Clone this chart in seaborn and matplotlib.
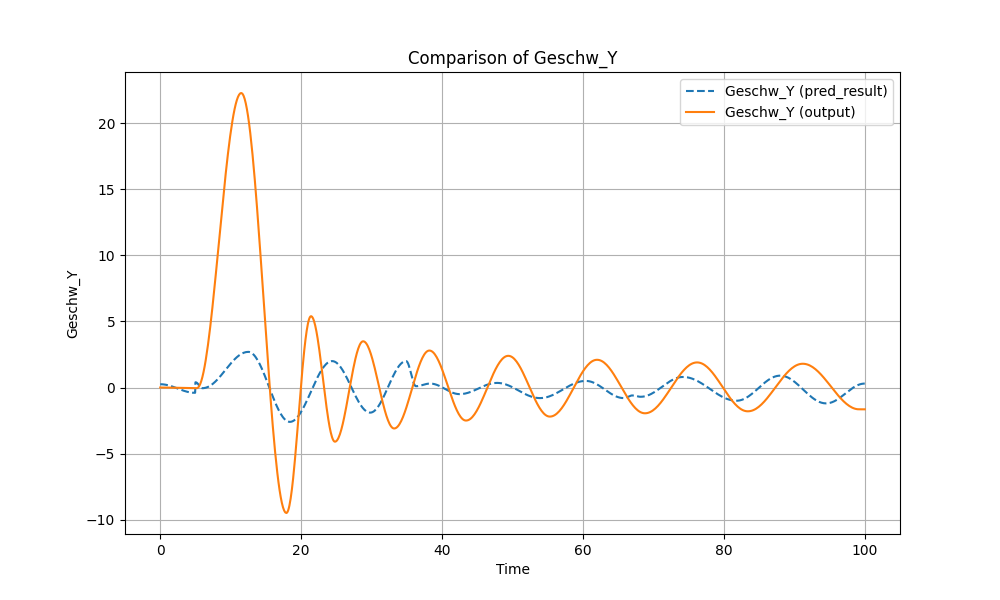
import numpy as np
import pandas as pd
import matplotlib
matplotlib.use("Agg")
import matplotlib.pyplot as plt
import seaborn as sns

# Key points (time, value): extrema of each series
out_t = [0, 5.2, 11.5, 17.9, 21.4, 24.8, 28.8, 33.2, 38.2, 43.4, 49.4, 55.3, 62.0, 68.8, 76.2, 83.4, 91.2, 99.2, 100]
out_v = [0.0, -0.05, 22.3, -9.5, 5.4, -4.1, 3.5, -3.1, 2.8, -2.5, 2.4, -2.2, 2.1, -1.95, 1.9, -1.8, 1.8, -1.65, -1.65]

pred_t = [0, 4.95, 5.0, 6.0, 12.5, 18.4, 24.4, 29.8, 34.9, 36.3, 38.3, 42.5, 47.8, 53.9, 60.4, 65.8, 67.0, 68.2, 74.2, 81.8, 88.0, 94.5, 100]
pred_v = [0.25, -0.4, 0.4, -0.05, 2.7, -2.6, 2.0, -1.9, 2.0, 0.1, 0.3, -0.5, 0.35, -0.8, 0.5, -0.8, -0.6, -0.7, 0.8, -1.0, 0.9, -1.2, 0.3]


def cos_curve(ts, vs, n=40):
    xs, ys = [], []
    for i in range(len(ts) - 1):
        s = np.linspace(0, 1, n, endpoint=False)
        w = (1 - np.cos(np.pi * s)) / 2
        xs.append(ts[i] + (ts[i + 1] - ts[i]) * s)
        ys.append(vs[i] + (vs[i + 1] - vs[i]) * w)
    xs.append([ts[-1]]); ys.append([vs[-1]])
    return np.concatenate(xs), np.concatenate(ys)

px, py = cos_curve(pred_t, pred_v)
ox, oy = cos_curve(out_t, out_v)

fig, ax = plt.subplots(figsize=(10, 6), dpi=100)
sns.lineplot(x=px, y=py, ax=ax, color="#1f77b4", linestyle="--", label="Geschw_Y (pred_result)", sort=False)
sns.lineplot(x=ox, y=oy, ax=ax, color="#ff7f0e", label="Geschw_Y (output)", sort=False)
ax.set_title("Comparison of Geschw_Y")
ax.set_xlabel("Time")
ax.set_ylabel("Geschw_Y")
ax.grid(True)
ax.legend(loc="upper right")
fig.savefig("out.png", dpi=100)
